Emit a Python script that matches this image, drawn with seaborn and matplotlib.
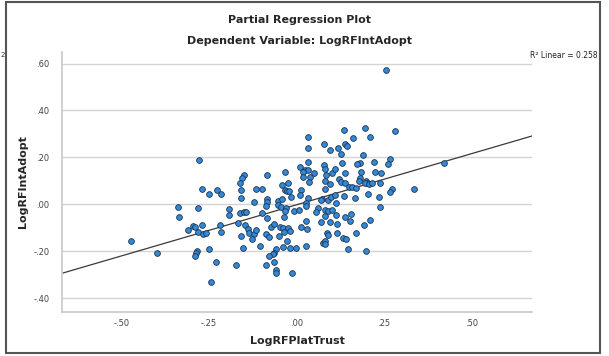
import matplotlib
matplotlib.use("Agg")
import matplotlib.pyplot as plt
import seaborn as sns
import pandas as pd
import numpy as np

# Partial regression residuals
plat_trust = [
    -0.278, -0.150, -0.155, -0.161, -0.271, -0.250, -0.226, -0.217, -0.159, -0.158,
    -0.115, -0.121, -0.338, -0.335, -0.281, -0.193, -0.192, -0.161, -0.151, -0.143,
    -0.166, -0.146, -0.311, -0.297, -0.290, -0.270, -0.281, -0.266, -0.259, -0.219,
    -0.216, -0.139, -0.135, -0.121, -0.115, -0.159, -0.127, -0.104, -0.154, -0.399,
    -0.283, -0.287, -0.291, -0.249, -0.230, -0.173, -0.245, -0.473,
    0.034, 0.034, 0.079, 0.095, 0.119, 0.135, 0.139, 0.145, 0.162, 0.126,
    0.034, 0.011, 0.024, 0.034, 0.049, 0.019, -0.034, -0.084, 0.079, 0.083,
    0.084, 0.101, 0.111, 0.131, 0.139, 0.018, 0.039, 0.036, 0.083, 0.083,
    0.095, 0.122, 0.127, 0.138, 0.151, 0.158, -0.023, -0.042, -0.034, -0.028,
    -0.021, 0.013, 0.010, -0.015, 0.034, 0.026, 0.072, 0.069, 0.089, 0.098,
    0.110, 0.113, 0.135, -0.099, -0.085, -0.084, -0.087, -0.098, -0.052, -0.054,
    -0.045, -0.041, -0.031, -0.034, -0.007, 0.008, 0.026, 0.062, 0.056, 0.083,
    0.082, 0.089, 0.101, 0.112, 0.139, 0.157, -0.083, -0.035, 0.028, 0.069,
    0.095, 0.115, 0.153, -0.087, -0.077, -0.073, -0.065, -0.048, -0.037, -0.024,
    -0.017, -0.036, 0.013, 0.029, 0.088, 0.089, 0.115, -0.050, -0.028, -0.037,
    -0.017, -0.002, 0.027, 0.075, 0.083, 0.081, 0.132, 0.141, 0.147, -0.058,
    -0.063, -0.066, -0.079, -0.063, -0.088, -0.058, -0.059, -0.014,
    0.195, 0.211, 0.281, 0.191, 0.182, 0.174, 0.221, 0.266, 0.263, 0.185,
    0.224, 0.242, 0.181, 0.178, 0.198, 0.202, 0.195, 0.208, 0.216, 0.239,
    0.171, 0.273, 0.268, 0.337, 0.423, 0.168, 0.204, 0.235, 0.239, 0.209,
    0.193, 0.170, 0.198, 0.257,
]
int_adopt = [
    0.190, 0.125, 0.110, 0.089, 0.065, 0.045, 0.061, 0.043, 0.061, 0.025,
    0.065, 0.008, -0.013, -0.055, -0.015, -0.019, -0.047, -0.038, -0.035, -0.032,
    -0.080, -0.090, -0.110, -0.092, -0.096, -0.090, -0.119, -0.127, -0.123, -0.089,
    -0.117, -0.106, -0.122, -0.127, -0.110, -0.136, -0.150, -0.178, -0.186, -0.207,
    -0.198, -0.209, -0.221, -0.190, -0.245, -0.259, -0.333, -0.157,
    0.285, 0.241, 0.258, 0.230, 0.241, 0.316, 0.255, 0.248, 0.284, 0.213,
    0.179, 0.160, 0.146, 0.146, 0.132, 0.139, 0.137, 0.125, 0.166, 0.149,
    0.125, 0.132, 0.149, 0.174, 0.134, 0.117, 0.115, 0.096, 0.100, 0.064,
    0.086, 0.106, 0.096, 0.089, 0.075, 0.075, 0.092, 0.081, 0.061, 0.058,
    0.055, 0.061, 0.038, 0.032, 0.026, 0.006, 0.023, 0.018, 0.018, 0.032,
    0.038, 0.004, 0.035, 0.066, 0.021, 0.009, -0.006, -0.036, 0.015, -0.005,
    -0.011, 0.023, -0.016, -0.028, -0.029, -0.025, -0.006, -0.016, -0.035, -0.025,
    -0.049, -0.029, -0.025, -0.046, -0.053, -0.042, -0.060, -0.056, -0.070, -0.077,
    -0.077, -0.086, -0.073, -0.126, -0.139, -0.096, -0.084, -0.099, -0.103, -0.100,
    -0.114, -0.119, -0.096, -0.106, -0.122, -0.133, -0.122, -0.136, -0.156, -0.184,
    -0.188, -0.188, -0.178, -0.167, -0.157, -0.171, -0.143, -0.150, -0.191, -0.192,
    -0.207, -0.214, -0.221, -0.245, -0.261, -0.281, -0.295, -0.292,
    0.325, 0.285, 0.311, 0.209, 0.177, 0.170, 0.179, 0.191, 0.170, 0.136,
    0.139, 0.133, 0.110, 0.099, 0.099, 0.092, 0.089, 0.086, 0.089, 0.092,
    0.070, 0.065, 0.053, 0.065, 0.177, 0.025, 0.045, 0.032, -0.011, -0.067,
    -0.087, -0.123, -0.198, 0.571,
]
x_ticks = [-0.50, -0.25, 0.00, 0.25, 0.50]
x_tick_labels = ["-.50", "-.25", ".00", ".25", ".50"]
y_ticks = [-0.40, -0.20, 0.00, 0.20, 0.40, 0.60]
y_tick_labels = ["-.40", "-.20", ".00", ".20", ".40", ".60"]

df = pd.DataFrame({"LogRFPlatTrust": plat_trust, "LogRFIntAdopt": int_adopt})

sns.set_theme(style="white")
plt.rcParams["font.family"] = ["DejaVu Sans"]

fig = plt.figure(figsize=(6.09, 3.56), dpi=100)
ax = fig.add_axes([0.1018, 0.1244, 0.7722, 0.7295])
ax.set_xlim(-0.670, 0.674)
ax.set_ylim(-0.458, 0.649)

ax.set_yticks(y_ticks)
ax.yaxis.grid(True, color="#d4d4d4", linewidth=1.0)
ax.set_axisbelow(True)

sns.regplot(data=df, x="LogRFPlatTrust", y="LogRFIntAdopt", ax=ax, ci=None,
            truncate=False, scatter=False,
            line_kws=dict(color="#3a3a3a", linewidth=0.9, zorder=2))
sns.scatterplot(data=df, x="LogRFPlatTrust", y="LogRFIntAdopt", ax=ax,
                s=17, color="#3389d8", edgecolor="#1c324c", linewidth=0.6,
                zorder=3)
ax.set_xlim(-0.670, 0.674)
ax.set_ylim(-0.458, 0.649)

ax.set_xticks(x_ticks)
ax.set_xticklabels(x_tick_labels)
ax.set_yticks(y_ticks)
ax.set_yticklabels(y_tick_labels)
ax.tick_params(axis="both", length=0, labelsize=6, colors="#444444")
ax.tick_params(axis="y", pad=9)
ax.tick_params(axis="x", pad=5)

for side in ["top", "right"]:
    ax.spines[side].set_visible(False)
for side in ["left", "bottom"]:
    ax.spines[side].set_color("#c8c8c8")
    ax.spines[side].set_linewidth(1.2)

ax.set_xlabel("LogRFPlatTrust", fontsize=8, fontweight="bold", labelpad=6)
ax.set_ylabel("LogRFIntAdopt", fontsize=8, fontweight="bold", labelpad=4)

fig.text(0.491, 0.944, "Partial Regression Plot", ha="center", va="center",
         fontsize=8, fontweight="bold")
fig.text(0.491, 0.884, "Dependent Variable: LogRFIntAdopt", ha="center",
         va="center", fontsize=8, fontweight="bold")
fig.text(0.982, 0.843, "R\u00b2 Linear = 0.258", ha="right", va="center",
         fontsize=5.5, color="#222222")
fig.text(0.001, 0.845, "2", ha="left", va="center", fontsize=5, color="#333333")

# outer frame
frame = plt.Rectangle((0.010, 0.008), 0.975, 0.986, transform=fig.transFigure,
                      fill=False, edgecolor="#555555", linewidth=1.5)
fig.patches.append(frame)

fig.savefig("out.png", dpi=100)
